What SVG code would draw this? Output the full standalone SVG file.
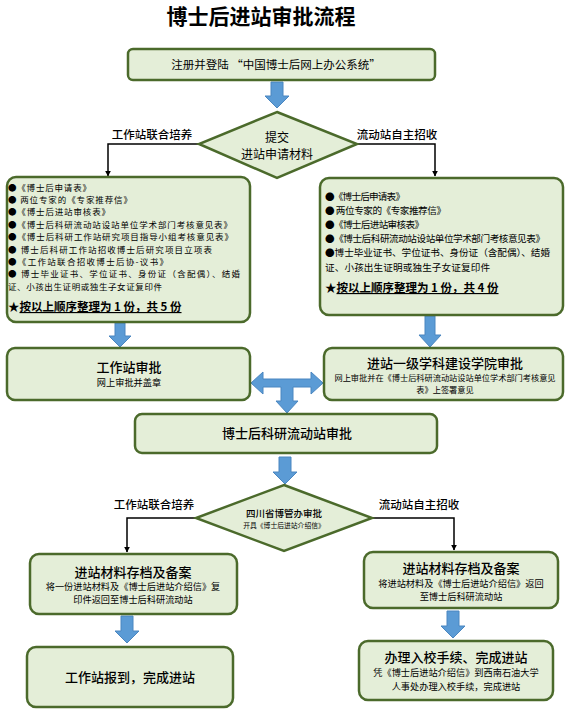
<svg xmlns="http://www.w3.org/2000/svg" width="581" height="718" viewBox="0 0 581 718">
<defs>
<style>
text{font-family:"Noto Sans CJK SC","Noto Sans",sans-serif;fill:#000}
.box{fill:#e4eed8;stroke:#4b6a2b;stroke-width:2.5}
.dia{fill:#e4eed8;stroke:#4b6a2b;stroke-width:2.5}
.barrow{fill:#5b9bd5;stroke:#4a86c0;stroke-width:1}
.conn{fill:none;stroke:#000;stroke-width:1.5}
.t13{font-size:13px;text-anchor:middle;font-weight:500}
.sub{font-size:9.2px;text-anchor:middle}
.lbl{font-size:11.5px;text-anchor:middle;font-weight:500}
.li{font-size:8.5px}
.ri{font-size:9.6px}
.star{font-size:11.5px;font-weight:bold}
</style>
<marker id="ah" viewBox="0 0 10 10" refX="9" refY="5" markerWidth="6" markerHeight="6" orient="auto" markerUnits="userSpaceOnUse">
<path d="M0,0 L10,5 L0,10 Z" fill="#000"/>
</marker>
</defs>
<rect width="581" height="718" fill="#fff"/>
<text x="261" y="24" style="font-size:21px;font-weight:bold;text-anchor:middle">博士后进站审批流程</text>

<g id="connectors">
<path class="barrow" d="M271,82 H283 V96 H289 L277,108 L265,96 H271 Z"/>
<path class="conn" d="M199,144 H108 V176" marker-end="url(#ah)"/>
<path class="conn" d="M357,144 H435 V176" marker-end="url(#ah)"/>
<path class="barrow" d="M115,323 H125 V336 H131 L120,347 L109,336 H115 Z"/>
<path class="barrow" d="M425,316 H435 V335 H441 L430,347 L419,335 H425 Z"/>
<path class="barrow" d="M251,383 L263,372 V379 H281 H293 H311 V372 L323,383 L311,394 V387 H293 V401 H298 L287,413 L276,401 H281 V387 H263 V394 Z"/>
<path class="barrow" d="M279,457 H291 V472 H297 L285,484 L273,472 H279 Z"/>
<path class="conn" d="M196,518 H127 V552" marker-end="url(#ah)"/>
<path class="conn" d="M372,518 H454 V550" marker-end="url(#ah)"/>
<path class="barrow" d="M121,616 H133 V631 H139 L127,643 L115,631 H121 Z"/>
<path class="barrow" d="M447,611 H459 V626 H465 L453,638 L441,626 H447 Z"/>
</g>

<g id="n-register">
<rect class="box" x="128" y="49" width="307" height="31" rx="5"/>
<text x="276" y="69" style="font-size:11.5px;text-anchor:middle">注册并登陆 “中国博士后网上办公系统”</text>
</g>

<g id="n-submit">
<polygon class="dia" points="277,112 357,144 277,178 199,144"/>
<text x="277" y="142" style="font-size:12px;text-anchor:middle">提交</text>
<text x="277" y="159" style="font-size:12px;text-anchor:middle">进站申请材料</text>
</g>
<text class="lbl" x="152" y="139">工作站联合培养</text>
<text class="lbl" x="397" y="139">流动站自主招收</text>

<g id="n-left-materials">
<rect class="box" x="7" y="177" width="243" height="145" rx="9"/>
<text class="li" x="8" y="190.5" textLength="83" lengthAdjust="spacing">●《博士后申请表》</text>
<text class="li" x="8" y="202.9" textLength="124" lengthAdjust="spacing">● 两位专家的《专家推荐信》</text>
<text class="li" x="8" y="215.3" textLength="102" lengthAdjust="spacing">●《博士后进站审核表》</text>
<text class="li" x="8" y="227.7" textLength="224" lengthAdjust="spacing">●《博士后科研流动站设站单位学术部门考核意见表》</text>
<text class="li" x="8" y="240.1" textLength="225" lengthAdjust="spacing">●《博士后科研工作站研究项目指导小组考核意见表》</text>
<text class="li" x="8" y="252.5" textLength="204" lengthAdjust="spacing">● 博士后科研工作站招收博士后研究项目立项表</text>
<text class="li" x="8" y="264.9" textLength="160" lengthAdjust="spacing">●《工作站联合招收博士后协-议书》</text>
<text class="li" x="8" y="277.3" textLength="232" lengthAdjust="spacing">● 博士毕业证书、学位证书、身份证（含配偶）、结婚</text>
<text class="li" x="8" y="289.7" textLength="154" lengthAdjust="spacing">证、小孩出生证明或独生子女证复印件</text>
<text class="star" x="8" y="311">★<tspan text-decoration="underline">按以上顺序整理为 1 份，共 5 份</tspan></text>
</g>

<g id="n-right-materials">
<rect class="box" x="320" y="178" width="243" height="137" rx="9"/>
<text class="ri" x="325" y="199.5" textLength="80" lengthAdjust="spacing">●《博士后申请表》</text>
<text class="ri" x="325" y="213.7" textLength="121" lengthAdjust="spacing">● 两位专家的《专家推荐信》</text>
<text class="ri" x="325" y="227.9" textLength="99" lengthAdjust="spacing">●《博士后进站审核表》</text>
<text class="ri" x="325" y="242.1" textLength="220" lengthAdjust="spacing">●《博士后科研流动站设站单位学术部门考核意见表》</text>
<text class="ri" x="325" y="256.3" textLength="225" lengthAdjust="spacing">●博士毕业证书、学位证书、身份证（含配偶）、结婚</text>
<text class="ri" x="325" y="270.5" textLength="165" lengthAdjust="spacing">证、小孩出生证明或独生子女证复印件</text>
<text class="star" x="325" y="292">★<tspan text-decoration="underline">按以上顺序整理为 1 份，共 4 份</tspan></text>
</g>

<g id="n-ws-approve">
<rect class="box" x="7" y="348" width="243" height="52" rx="8"/>
<text class="t13" x="129" y="371.5">工作站审批</text>
<text class="sub" x="129" y="386">网上审批并盖章</text>
</g>

<g id="n-college-approve">
<rect class="box" x="324" y="348" width="239" height="52" rx="8"/>
<text class="t13" x="445" y="367.5">进站一级学科建设学院审批</text>
<text x="445" y="380.5" style="font-size:8.2px;text-anchor:middle">网上审批并在《博士后科研流动站设站单位学术部门考核意见</text>
<text x="445" y="392.5" style="font-size:8.2px;text-anchor:middle">表》上签署意见</text>
</g>

<g id="n-station-approve">
<rect class="box" x="135" y="414" width="302" height="39" rx="7"/>
<text class="t13" x="287" y="438">博士后科研流动站审批</text>
</g>

<g id="n-province">
<polygon class="dia" points="284,485 372,518 284,551 196,518"/>
<text x="284" y="516.5" style="font-size:9.5px;text-anchor:middle;font-weight:500">四川省博管办审批</text>
<text x="284" y="528" style="font-size:6.8px;text-anchor:middle">开具《博士后进站介绍信》</text>
</g>
<text class="lbl" x="154" y="509">工作站联合培养</text>
<text class="lbl" x="419" y="509">流动站自主招收</text>

<g id="n-left-archive">
<rect class="box" x="30" y="554" width="207" height="60" rx="9"/>
<text class="t13" x="133" y="576.5">进站材料存档及备案</text>
<text class="sub" x="133" y="590.3">将一份进站材料及《博士后进站介绍信》复</text>
<text class="sub" x="133" y="603.3">印件返回至博士后科研流动站</text>
</g>

<g id="n-right-archive">
<rect class="box" x="364" y="552" width="194" height="56" rx="9"/>
<text class="t13" x="461" y="572.5">进站材料存档及备案</text>
<text class="sub" x="461" y="587">将进站材料及《博士后进站介绍信》返回</text>
<text class="sub" x="461" y="600">至博士后科研流动站</text>
</g>

<g id="n-left-finish">
<rect class="box" x="27" y="647" width="206" height="60" rx="9"/>
<text class="t13" x="130" y="682">工作站报到，完成进站</text>
</g>

<g id="n-right-finish">
<rect class="box" x="359" y="641" width="194" height="59" rx="9"/>
<text class="t13" x="456" y="662">办理入校手续、完成进站</text>
<text class="sub" x="456" y="675.5">凭《博士后进站介绍信》到西南石油大学</text>
<text class="sub" x="456" y="689.5">人事处办理入校手续，完成进站</text>
</g>
</svg>
